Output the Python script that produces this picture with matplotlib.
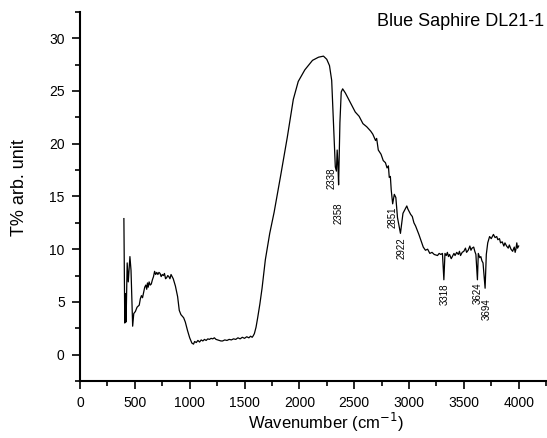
import numpy as np
import matplotlib
matplotlib.use("Agg")
import matplotlib.pyplot as plt
from matplotlib.ticker import MultipleLocator

plt.rcParams["font.family"] = ["Liberation Sans", "DejaVu Sans"]

# FTIR spectrum (wavenumber cm^-1, T% arb. unit)
wavenumber = [
    400, 408, 415, 420, 430, 440, 455, 465, 480, 490, 505, 520, 540, 550, 560,
    570, 580, 590, 600, 608, 615, 622, 630, 640, 650, 660, 670, 680, 690, 700,
    710, 720, 730, 740, 750, 760, 770, 780, 790, 800, 810, 820, 830, 840, 850,
    870, 890, 905, 920, 945, 960, 980, 1000, 1020, 1035, 1045, 1060, 1075,
    1090, 1105, 1120, 1135, 1150, 1165, 1180, 1195, 1210, 1225, 1240, 1255,
    1270, 1285, 1300, 1320, 1340, 1360, 1380, 1400, 1420, 1440, 1460, 1480,
    1500, 1520, 1540, 1555, 1570, 1580, 1590, 1605, 1620, 1640, 1660, 1690,
    1730, 1770, 1830, 1890, 1945, 1990, 2050, 2120, 2175, 2220, 2250, 2275,
    2295, 2310, 2328, 2338, 2345, 2352, 2358, 2370, 2382, 2395, 2420, 2440,
    2470, 2510, 2545, 2580, 2615, 2650, 2670, 2695, 2705, 2720, 2745, 2765,
    2785, 2800, 2812, 2820, 2830, 2838, 2851, 2866, 2880, 2895, 2922, 2945,
    2965, 2980, 2990, 3000, 3015, 3030, 3045, 3060, 3075, 3090, 3110, 3130,
    3150, 3170, 3190, 3210, 3230, 3260, 3275, 3290, 3305, 3318, 3328, 3340,
    3350, 3360, 3370, 3385, 3395, 3410, 3420, 3435, 3450, 3460, 3470, 3485,
    3500, 3515, 3525, 3540, 3555, 3565, 3575, 3590, 3600, 3610, 3624, 3632,
    3645, 3655, 3665, 3675, 3694, 3705, 3718, 3735, 3750, 3770, 3785, 3800,
    3810, 3825, 3835, 3850, 3865, 3875, 3890, 3905, 3915, 3930, 3945, 3960,
    3968, 3975, 3983, 3990, 4000,
]
transmittance = [
    12.9, 3.0, 5.8, 3.1, 8.7, 6.9, 9.3, 8.0, 2.7, 3.9, 4.1, 4.5, 4.7, 5.3, 5.6,
    5.4, 5.9, 6.4, 6.6, 6.2, 6.8, 6.4, 6.9, 6.6, 6.7, 7.1, 7.4, 7.9, 7.6, 7.8,
    7.6, 7.8, 7.7, 7.4, 7.6, 7.5, 7.7, 7.2, 7.3, 7.5, 7.4, 7.2, 7.6, 7.4, 7.2,
    6.5, 5.5, 4.2, 3.8, 3.5, 3.1, 2.3, 1.6, 1.1, 1.0, 1.25, 1.15, 1.35,
    1.2, 1.4, 1.3, 1.45, 1.35, 1.5, 1.45, 1.55, 1.5, 1.6, 1.45, 1.4,
    1.35, 1.3, 1.3, 1.4, 1.35, 1.45, 1.4, 1.5, 1.45, 1.6, 1.5, 1.65,
    1.55, 1.7, 1.6, 1.75, 1.65, 1.8, 2.0, 2.6, 3.5, 4.8, 6.3, 9.0,
    11.5, 13.5, 17.0, 20.6, 24.2, 25.9, 27.0, 27.9, 28.2, 28.3, 28.0, 27.4,
    26.0, 22.2, 17.8, 17.4, 19.4, 18.0, 16.1, 22.0, 24.9, 25.2, 24.8, 24.4,
    23.8, 23.0, 22.6, 21.9, 21.6, 21.2, 20.9, 20.3, 20.5, 19.4, 19.0, 18.4,
    18.2, 17.7, 17.9, 16.8, 16.9, 15.6, 14.3, 15.2, 14.9, 13.0, 11.5, 13.4,
    13.8, 14.1, 13.8, 13.6, 13.3, 13.1, 12.5, 12.2, 11.8, 11.4, 10.8, 10.2,
    9.9, 10.0, 9.6, 9.7, 9.5, 9.4, 9.6, 9.5, 9.6, 7.1, 9.6, 9.4,
    9.7, 9.3, 9.5, 9.1, 9.3, 9.6, 9.4, 9.7, 9.5, 9.8, 9.4, 9.7,
    9.8, 10.1, 9.7, 9.9, 10.3, 9.9, 10.1, 10.2, 9.8, 9.5, 7.1, 9.6,
    9.2, 9.3, 8.9, 8.7, 6.3, 9.5, 10.6, 11.2, 11.0, 11.4, 11.1, 11.2,
    10.9, 11.0, 10.6, 10.7, 10.3, 10.6, 10.3, 10.1, 10.4, 10.0, 9.8, 10.2,
    9.7, 10.0, 10.6, 10.1, 10.3,
]

# peak annotations and where their labels sit
peak_labels = ["2338", "2358", "2851", "2922", "3318", "3624", "3694"]
label_x = [2295, 2358, 2848, 2935, 3325, 3628, 3712]
label_y = [16.7, 13.4, 13.0, 10.1, 5.7, 5.8, 4.35]

fig = plt.figure(figsize=(5.47, 4.38), dpi=100)
ax = fig.add_axes([0.1463, 0.130, 0.852, 0.843])

ax.plot(wavenumber, transmittance, color="black", linewidth=0.9)

for lab, lx, ly in zip(peak_labels, label_x, label_y):
    ax.text(lx, ly, lab, rotation=90, ha="center", va="center", fontsize=7)

ax.set_xlim(0, 4250)
ax.set_ylim(-2.5, 32.5)
ax.xaxis.set_minor_locator(MultipleLocator(250))
ax.yaxis.set_minor_locator(MultipleLocator(2.5))
ax.set_xticks(range(0, 4001, 500))
ax.set_yticks(range(0, 31, 5))

for s in ["top", "right"]:
    ax.spines[s].set_visible(False)
for s in ["left", "bottom"]:
    ax.spines[s].set_linewidth(1.5)

ax.tick_params(which="major", direction="out", length=6, width=1.2,
               labelsize=10, pad=5)
ax.tick_params(which="minor", direction="out", length=3.5, width=1.2)

# axis titles placed where the reference has them
fig.text(326 / 547, 1 - 434 / 438, "Wavenumber (cm$^{-1}$)", ha="center",
         va="bottom", fontsize=12)
fig.text(20 / 547, 1 - 188 / 438, "T% arb. unit", rotation=90, ha="center",
         va="center", fontsize=13)

fig.text(544 / 547, 1 - 22 / 438, "Blue Saphire DL21-1", ha="right", va="center",
         fontsize=13)

fig.savefig("out.png", dpi=100, facecolor="white")
plt.close(fig)
